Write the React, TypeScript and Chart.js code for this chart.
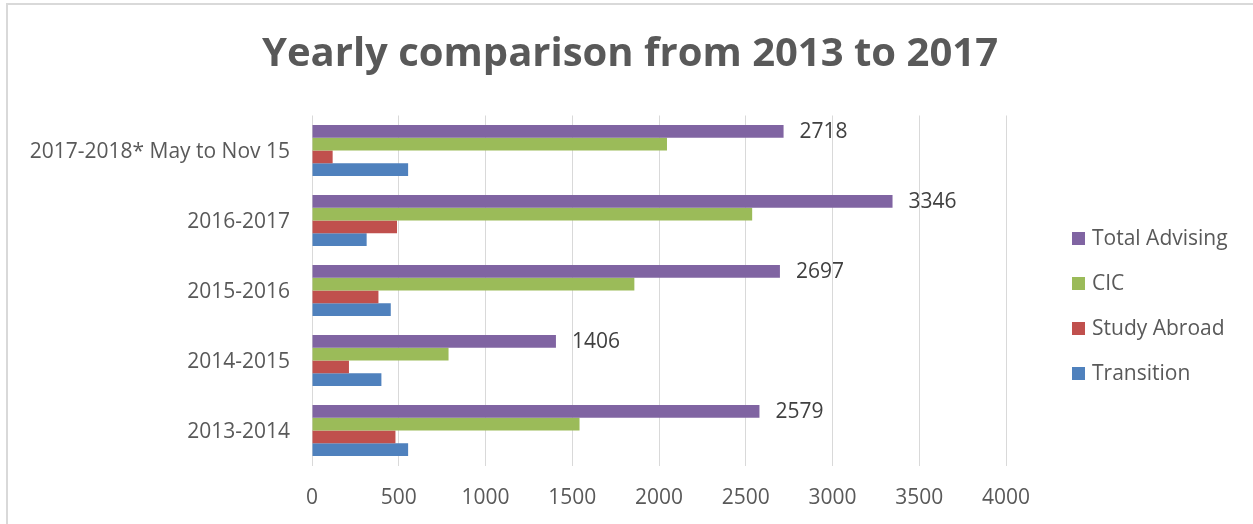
import React, { useEffect, useRef } from "react";
import { Chart, registerables } from "chart.js";

Chart.register(...registerables);

const titleText = "Yearly comparison from 2013 to 2017";
const categories = ["2017-2018* May to Nov 15", "2016-2017", "2015-2016", "2014-2015", "2013-2014"];
const seriesNames = ["Total Advising", "CIC", "Study Abroad", "Transition"];
const totalAdvising = [2718, 3346, 2697, 1406, 2579];
const cic = [2046, 2537, 1858, 787, 1542];
const studyAbroad = [119, 490, 383, 213, 481];
const transition = [554, 315, 454, 400, 554];
const xTicks = [0, 500, 1000, 1500, 2000, 2500, 3000, 3500, 4000];
const seriesColors = ["#8064A2", "#9BBB59", "#C0504D", "#4F81BD"];

const FONT = "'Open Sans', 'Liberation Sans', sans-serif";
const TEXT = "#595959";

export default function App() {
  const canvasRef = useRef<HTMLCanvasElement | null>(null);

  useEffect(() => {
    const canvas = canvasRef.current;
    if (!canvas) return;
    document.body.style.margin = "0";
    document.body.style.overflow = "hidden";

    const overlay = {
      id: "overlay",
      afterDraw(chart: any) {
        const ctx = chart.ctx as CanvasRenderingContext2D;
        ctx.save();
        // title
        ctx.font = `bold 40px ${FONT}`;
        ctx.fillStyle = TEXT;
        ctx.textAlign = "center";
        ctx.textBaseline = "middle";
        ctx.fillText(titleText, 630, 55);
        // data labels for Total Advising
        const meta = chart.getDatasetMeta(0);
        ctx.font = `21px ${FONT}`;
        ctx.fillStyle = "#404040";
        ctx.textAlign = "left";
        meta.data.forEach((bar: any, i: number) => {
          ctx.fillText(String(totalAdvising[i]), bar.x + 16, bar.y + 1);
        });
        // legend
        ctx.font = `21px ${FONT}`;
        chart.data.datasets.forEach((ds: any, i: number) => {
          const cy = 238.5 + i * 45;
          ctx.fillStyle = ds.backgroundColor;
          ctx.fillRect(1072, cy - 6.5, 13, 13);
          ctx.fillStyle = TEXT;
          ctx.fillText(ds.label, 1092, cy + 1);
        });
        ctx.restore();
      },
    };

    const seriesData = [totalAdvising, cic, studyAbroad, transition];

    const chart = new Chart(canvas, {
      type: "bar",
      data: {
        labels: categories,
        datasets: seriesNames.map((name, i) => ({
          label: name,
          data: seriesData[i],
          backgroundColor: seriesColors[i],
          borderWidth: 0,
          categoryPercentage: 0.73,
          barPercentage: 1,
        })),
      },
      options: {
        indexAxis: "y",
        responsive: false,
        animation: false,
        layout: { padding: { top: 115.5, right: 247, left: 0, bottom: 0 } },
        plugins: {
          legend: { display: false },
          title: { display: false },
          tooltip: { enabled: false },
        },
        scales: {
          y: {
            grid: { display: false },
            border: { display: false },
            ticks: { color: TEXT, font: { family: FONT, size: 21 }, padding: 14, labelOffset: 2 },
            afterFit(scale: any) {
              scale.width = 312;
            },
          },
          x: {
            min: 0,
            max: 4000,
            afterBuildTicks(scale: any) {
              scale.ticks = xTicks.map((v) => ({ value: v }));
            },
            grid: { color: "#D9D9D9", lineWidth: 1, drawTicks: false },
            border: { display: false },
            ticks: {
              color: TEXT,
              font: { family: FONT, size: 21 },
              padding: 20,
              maxRotation: 0,
              callback: (v: any) => String(v),
            },
            afterFit(scale: any) {
              scale.height = 58.5;
            },
          },
        },
      },
      plugins: [overlay],
    } as any);

    return () => chart.destroy();
  }, []);

  return (
    <div style={{ position: "fixed", left: 0, top: 0, width: 1253, height: 524, overflow: "hidden", background: "#fff" }}>
      <div
        style={{
          position: "absolute",
          left: 6,
          top: 3,
          width: 1300,
          height: 600,
          borderLeft: "2px solid #D9D9D9",
          borderTop: "2px solid #D9D9D9",
        }}
      />
      <canvas ref={canvasRef} width={1253} height={524} style={{ position: "absolute", left: 0, top: 0, width: 1253, height: 524 }} />
    </div>
  );
}
